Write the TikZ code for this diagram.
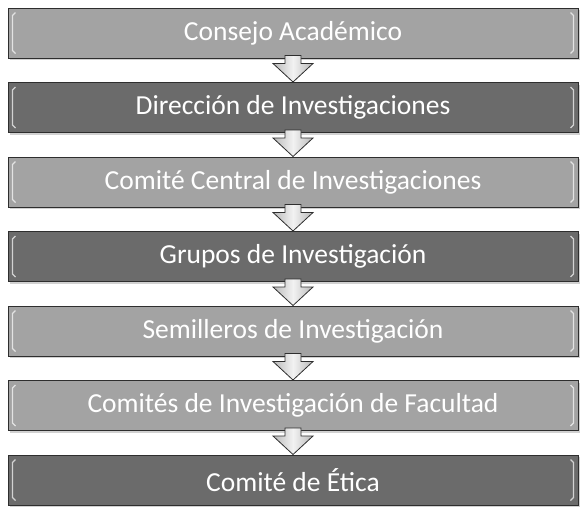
\documentclass[tikz,border=0pt]{standalone}
\usepackage{fontspec}
\setmainfont{Carlito}
\usetikzlibrary{calc,shadows}
\definecolor{lightbox}{gray}{0.64}
\definecolor{darkbox}{gray}{0.42}
\definecolor{edgecol}{gray}{0.18}
\tikzset{
  x=1pt,y=-1pt,
  boxbase/.style={draw=edgecol, line width=1pt, minimum width=570pt, minimum height=50pt,
    text=white, font=\fontsize{27.5}{30}\selectfont, inner sep=0pt,
    drop shadow={shadow xshift=2pt, shadow yshift=-2pt, fill=gray!60, opacity=0.6}},
  lightstep/.style={boxbase, fill=lightbox},
  darkstep/.style={boxbase, fill=darkbox},
  downarrow/.style={draw=edgecol, line width=0.8pt, left color=gray!55, right color=gray!55, middle color=gray!10},
  rim/.style={draw=white, opacity=0.7, line width=1.2pt}
}
\begin{document}
\begin{tikzpicture}
\useasboundingbox (0,0) rectangle (585,512);
\node[lightstep] (b1) at (293,33) {Consejo Académico};
\node[darkstep]  (b2) at (293,107.5) {Dirección de Investigaciones};
\node[lightstep] (b3) at (293,182) {Comité Central de Investigaciones};
\node[darkstep]  (b4) at (293,256.5) {Grupos de Investigación};
\node[lightstep] (b5) at (293,331) {Semilleros de Investigación};
\node[lightstep] (b6) at (293,405.5) {Comités de Investigación de Facultad};
\node[darkstep]  (b7) at (293,480) {Comité de Ética};
\foreach \b in {b1,b2,b3,b4,b5,b6,b7}{
  \draw[rim] ($(\b.north west)+(8,5)$) -- ($(\b.north west)+(5,8)$) -- ($(\b.south west)+(5,-8)$) -- ($(\b.south west)+(8,-5)$);
  \draw[rim] ($(\b.north east)+(-8,5)$) -- ($(\b.north east)+(-5,8)$) -- ($(\b.south east)+(-5,-8)$) -- ($(\b.south east)+(-8,-5)$);
}
\foreach \a/\b in {b1/b2,b2/b3,b3/b4,b4/b5,b5/b6,b6/b7}{
  \draw[downarrow] ($(\a.south)+(-8,-3)$) -- ($(\a.south)+(8,-3)$) -- ($(\a.south)+(8,5)$)
    -- ($(\a.south)+(20,5)$) -- (\b.north) -- ($(\a.south)+(-20,5)$) -- ($(\a.south)+(-8,5)$) -- cycle;
}
\end{tikzpicture}
\end{document}
